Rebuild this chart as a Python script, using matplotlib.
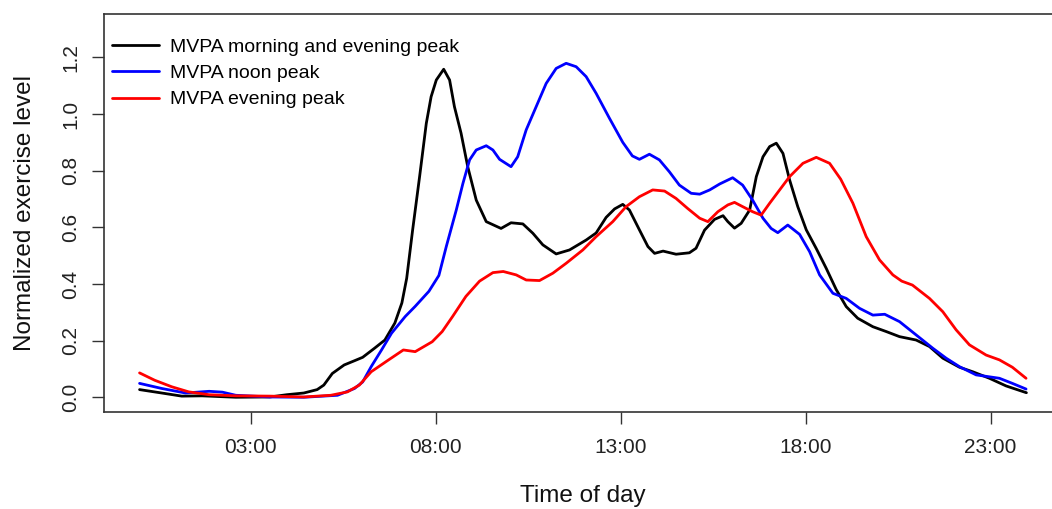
"""Daily MVPA profiles: normalized exercise level by time of day"""

import matplotlib
matplotlib.use("Agg")
import matplotlib.pyplot as plt

plt.rcParams["font.family"] = ["Liberation Sans", "DejaVu Sans"]

# time of day in hours
black_hours = [0.0, 0.6, 1.14, 1.69, 2.6, 3.52, 3.98, 4.44, 4.8, 4.98, 5.21, 5.53, 5.81, 6.03,
               6.35, 6.63, 6.9, 7.09, 7.22, 7.38, 7.57, 7.75, 7.88, 8.02, 8.22, 8.38, 8.51, 8.69,
               8.87, 9.1, 9.37, 9.77, 10.04, 10.36, 10.63, 10.9, 11.26, 11.62, 12.07, 12.34, 12.61,
               12.84, 13.06, 13.24, 13.51, 13.74, 13.92, 14.15, 14.5, 14.86, 15.04, 15.27, 15.54,
               15.77, 15.9, 16.08, 16.26, 16.49, 16.67, 16.85, 17.03, 17.21, 17.39, 17.57, 17.79,
               18.02, 18.29, 18.56, 18.83, 19.1, 19.41, 19.82, 20.18, 20.54, 20.99, 21.35, 21.71,
               22.16, 22.52, 22.97, 23.42, 23.97]
black_vals = [0.027, 0.015, 0.004, 0.005, 0.0, 0.001, 0.009, 0.015, 0.027, 0.043, 0.084, 0.114,
              0.129, 0.141, 0.173, 0.202, 0.262, 0.333, 0.42, 0.59, 0.78, 0.967, 1.061, 1.12,
              1.158, 1.12, 1.026, 0.932, 0.814, 0.696, 0.62, 0.596, 0.616, 0.612, 0.579, 0.538,
              0.506, 0.52, 0.555, 0.58, 0.635, 0.665, 0.681, 0.661, 0.591, 0.532, 0.508, 0.516,
              0.505, 0.51, 0.526, 0.59, 0.628, 0.641, 0.62, 0.597, 0.614, 0.661, 0.779, 0.849,
              0.885, 0.897, 0.861, 0.767, 0.673, 0.591, 0.525, 0.455, 0.38, 0.32, 0.279, 0.249,
              0.232, 0.214, 0.202, 0.179, 0.138, 0.106, 0.09, 0.067, 0.04, 0.016]

blue_hours = [0.0, 0.6, 1.24, 1.88, 2.24, 2.6, 3.52, 4.44, 5.35, 5.81, 6.03, 6.26, 6.54, 6.81,
              7.18, 7.45, 7.82, 8.09, 8.29, 8.56, 8.74, 8.92, 9.1, 9.37, 9.55, 9.73, 10.04, 10.22,
              10.45, 10.72, 10.99, 11.26, 11.53, 11.8, 12.07, 12.34, 12.7, 13.06, 13.32, 13.51,
              13.78, 14.05, 14.32, 14.59, 14.91, 15.14, 15.41, 15.68, 16.03, 16.3, 16.57, 16.85,
              17.07, 17.25, 17.52, 17.84, 18.11, 18.38, 18.74, 19.1, 19.46, 19.82, 20.14, 20.54,
              20.99, 21.44, 21.8, 22.16, 22.61, 23.24, 23.59, 23.96]
blue_vals = [0.049, 0.031, 0.015, 0.021, 0.018, 0.007, 0.001, 0.0, 0.007, 0.031, 0.054, 0.108,
             0.167, 0.226, 0.285, 0.321, 0.374, 0.43, 0.532, 0.661, 0.755, 0.838, 0.873, 0.888,
             0.873, 0.84, 0.814, 0.849, 0.944, 1.026, 1.108, 1.161, 1.179, 1.167, 1.132, 1.073,
             0.985, 0.9, 0.852, 0.84, 0.858, 0.838, 0.796, 0.749, 0.72, 0.717, 0.732, 0.753,
             0.775, 0.749, 0.696, 0.632, 0.596, 0.581, 0.608, 0.575, 0.514, 0.432, 0.367, 0.349,
             0.314, 0.29, 0.293, 0.267, 0.22, 0.173, 0.138, 0.108, 0.079, 0.067, 0.049, 0.029]

red_hours = [0.0, 0.41, 0.87, 1.33, 1.88, 2.6, 3.52, 4.44, 5.17, 5.62, 5.94, 6.26, 6.72, 7.13,
             7.45, 7.91, 8.18, 8.46, 8.82, 9.19, 9.55, 9.83, 10.18, 10.45, 10.81, 11.17, 11.53,
             11.98, 12.34, 12.79, 13.15, 13.51, 13.87, 14.19, 14.5, 14.81, 15.14, 15.36, 15.63,
             15.9, 16.08, 16.3, 16.57, 16.8, 17.03, 17.3, 17.57, 17.93, 18.29, 18.65, 18.95,
             19.28, 19.64, 20.0, 20.36, 20.6, 20.89, 21.35, 21.71, 22.07, 22.43, 22.88, 23.24,
             23.59, 23.96]
red_vals = [0.086, 0.06, 0.037, 0.019, 0.009, 0.005, 0.004, 0.001, 0.007, 0.019, 0.043, 0.09,
            0.131, 0.167, 0.161, 0.196, 0.232, 0.285, 0.356, 0.41, 0.44, 0.444, 0.432, 0.414,
            0.412, 0.438, 0.473, 0.52, 0.567, 0.62, 0.673, 0.708, 0.732, 0.728, 0.702, 0.667,
            0.632, 0.62, 0.655, 0.679, 0.688, 0.673, 0.655, 0.643, 0.685, 0.732, 0.779, 0.826,
            0.847, 0.826, 0.77, 0.685, 0.567, 0.485, 0.432, 0.41, 0.396, 0.349, 0.302, 0.238,
            0.185, 0.149, 0.132, 0.106, 0.067]

series_labels = ["MVPA morning and evening peak", "MVPA noon peak", "MVPA evening peak"]
xtick_pos = [3, 8, 13, 18, 23]
xtick_labels = ["03:00", "08:00", "13:00", "18:00", "23:00"]
ytick_pos = [0.0, 0.2, 0.4, 0.6, 0.8, 1.0, 1.2]
ytick_labels = ["0.0", "0.2", "0.4", "0.6", "0.8", "1.0", "1.2"]

fig = plt.figure(figsize=(10.52, 5.09), dpi=100)
ax = fig.add_axes([0.0989, 0.1906, 0.9116, 0.7813])

line_style = dict(lw=2.0, solid_joinstyle="round", solid_capstyle="round")
ax.plot(black_hours, black_vals, color="black", label=series_labels[0], **line_style)
ax.plot(blue_hours, blue_vals, color="#0000ff", label=series_labels[1], **line_style)
ax.plot(red_hours, red_vals, color="#ff0000", label=series_labels[2], **line_style)

ax.set_xlim(-0.96, 24.96)
ax.set_ylim(-0.052, 1.352)

ax.set_xticks(xtick_pos)
ax.set_xticklabels(xtick_labels, fontsize=15, color="#222222")
ax.set_yticks(ytick_pos)
ax.set_yticklabels(ytick_labels, fontsize=15, rotation=90, va="center", color="#222222")
ax.tick_params(axis="x", length=8.5, width=1.0, pad=10.5, color="#333333")
ax.tick_params(axis="y", length=8.5, width=1.0, pad=8.5, color="#333333")
for side in ax.spines.values():
    side.set_linewidth(1.2)
    side.set_color("#333333")

ax.set_xlabel("Time of day", fontsize=17.5, color="#111111")
ax.xaxis.set_label_coords(0.4993, -0.1836)
ax.set_ylabel("Normalized exercise level", fontsize=17.5, color="#111111")
ax.yaxis.set_label_coords(-0.0714, 0.5)

ax.legend(loc="upper left", bbox_to_anchor=(0.0083, 0.94), frameon=False, fontsize=14,
          handlelength=2.4, handletextpad=0.6, labelspacing=0.45, borderpad=0, borderaxespad=0)

fig.savefig("out.png", dpi=100)
